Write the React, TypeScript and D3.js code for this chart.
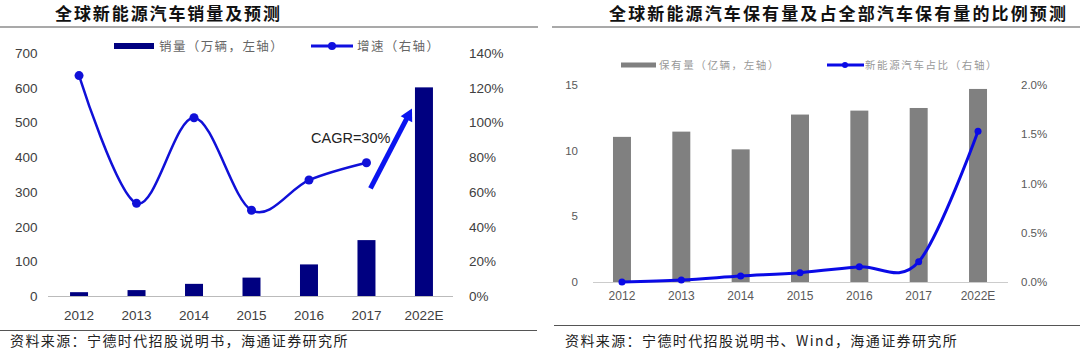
import { scaleBand, scaleLinear, line, curveCardinal } from "d3";

const years = ["2012", "2013", "2014", "2015", "2016", "2017", "2022E"];
// left chart
const sales = [11, 17, 35, 53, 91, 161, 601];
const growth = [1.27, 0.534, 1.027, 0.494, 0.668, 0.768];
const salesTicks = [0, 100, 200, 300, 400, 500, 600, 700];
const growthTicks = [0, 0.2, 0.4, 0.6, 0.8, 1.0, 1.2, 1.4];
// right chart
const stock = [11.05, 11.45, 10.1, 12.75, 13.05, 13.25, 14.7];
const share = [0.0, 0.0002, 0.0006, 0.00095, 0.00155, 0.00205, 0.0153];
const stockTicks = [0, 5, 10, 15];
const shareTicks = [0, 0.005, 0.01, 0.015, 0.02];

const titles = ["全球新能源汽车销量及预测", "全球新能源汽车保有量及占全部汽车保有量的比例预测"];
const legendLeft = ["销量（万辆，左轴）", "增速（右轴）"];
const legendRight = ["保有量（亿辆，左轴）", "新能源汽车占比（右轴）"];
const sources = ["资料来源：宁德时代招股说明书，海通证券研究所", "资料来源：宁德时代招股说明书、Wind，海通证券研究所"];

const NUM = "'Liberation Sans', Arial, sans-serif";
const CJK = "'Noto Sans CJK SC', sans-serif";

function LeftChart() {
  const x = scaleBand().domain(years).range([50.3, 452.7]).paddingInner(0.687).paddingOuter(0.3435);
  const y = scaleLinear().domain([0, 700]).range([296, 53]);
  const y2 = scaleLinear().domain([0, 1.4]).range([296, 53]);
  const cx = (d: string) => (x(d) as number) + x.bandwidth() / 2;
  const pts = growth.map((g, i) => [cx(years[i]), y2(g)] as [number, number]);
  const path = line().curve(curveCardinal.tension(0))(pts) || "";
  // CAGR arrow
  const a0 = [cx("2017") + 4, y2(0.62)];
  const a1 = [(x("2022E") as number) - 3, y2(1.08)];
  const ang = Math.atan2(a1[1] - a0[1], a1[0] - a0[0]);
  const hl = 12, hw = 6.5;
  const head = [
    [a1[0], a1[1]],
    [a1[0] - hl * Math.cos(ang) + hw * Math.sin(ang), a1[1] - hl * Math.sin(ang) - hw * Math.cos(ang)],
    [a1[0] - hl * Math.cos(ang) - hw * Math.sin(ang), a1[1] - hl * Math.sin(ang) + hw * Math.cos(ang)],
  ];
  return (
    <g>
      <text x={55} y={20} fontFamily={CJK} fontWeight="bold" fontSize={17} textLength={225} lengthAdjust="spacing" fill="#111">
        {titles[0]}
      </text>
      <line x1={0} x2={538} y1={27} y2={27} stroke="#555" strokeWidth={1.2} />
      {/* legend */}
      <rect x={114} y={43} width={40} height={6} fill="#000080" />
      <text x={159} y={50.5} fontFamily={CJK} fontSize={12.5} fill="#666" letterSpacing={1.4}>{legendLeft[0]}</text>
      <line x1={311} x2={353} y1={46} y2={46} stroke="#1010e0" strokeWidth={3} />
      <circle cx={332} cy={46} r={4} fill="#1010e0" />
      <text x={357} y={50.5} fontFamily={CJK} fontSize={12.5} fill="#666" letterSpacing={1.4}>{legendLeft[1]}</text>
      {/* bars */}
      {sales.map((v, i) => (
        <rect key={i} x={x(years[i])} y={y(v)} width={x.bandwidth()} height={y(0) - y(v)} fill="#000080" />
      ))}
      <line x1={48} x2={453} y1={296.5} y2={296.5} stroke="#bbb" />
      {salesTicks.map((t) => (
        <text key={t} x={37.5} y={y(t) + 5} textAnchor="end" fontFamily={NUM} fontSize={13.5} fill="#404040">{t}</text>
      ))}
      {growthTicks.map((t) => (
        <text key={t} x={469} y={y2(t) + 5} fontFamily={NUM} fontSize={13.5} fill="#404040">{`${Math.round(t * 100)}%`}</text>
      ))}
      {years.map((d) => (
        <text key={d} x={cx(d)} y={320} textAnchor="middle" fontFamily={NUM} fontSize={13.5} fill="#404040">{d}</text>
      ))}
      <path d={path} fill="none" stroke="#1010d8" strokeWidth={2.5} />
      {pts.map((p, i) => (
        <circle key={i} cx={p[0]} cy={p[1]} r={4.5} fill="#1010d8" />
      ))}
      <text x={311} y={143} fontFamily={NUM} fontSize={14.5} fill="#222">CAGR=30%</text>
      <line x1={a0[0]} y1={a0[1]} x2={a1[0] - 8 * Math.cos(ang)} y2={a1[1] - 8 * Math.sin(ang)} stroke="#0a14f0" strokeWidth={5} />
      <polygon points={head.map((p) => p.join(",")).join(" ")} fill="#0a14f0" />
      <line x1={0} x2={537} y1={330.5} y2={330.5} stroke="#555" strokeWidth={1.2} />
      <text x={10} y={346} fontFamily={CJK} fontSize={14} letterSpacing={1.4} fill="#222">{sources[0]}</text>
    </g>
  );
}

function RightChart() {
  const x = scaleBand().domain(years).range([592.3, 1007.7]).paddingInner(0.697).paddingOuter(0.3485);
  const y = scaleLinear().domain([0, 15]).range([282, 85]);
  const y2 = scaleLinear().domain([0, 0.02]).range([282, 85]);
  const cx = (d: string) => (x(d) as number) + x.bandwidth() / 2;
  const pts = share.map((s, i) => [cx(years[i]), y2(s)] as [number, number]);
  const path = line().curve(curveCardinal.tension(0))(pts) || "";
  return (
    <g>
      <text x={609} y={20} fontFamily={CJK} fontWeight="bold" fontSize={17} textLength={457} lengthAdjust="spacing" fill="#111">
        {titles[1]}
      </text>
      <line x1={552} x2={1080} y1={27} y2={27} stroke="#555" strokeWidth={1.2} />
      {/* legend */}
      <rect x={621} y={62.5} width={35} height={5} fill="#808080" />
      <text x={659} y={69} fontFamily={CJK} fontSize={10.5} fill="#999" letterSpacing={1.6}>{legendRight[0]}</text>
      <line x1={827} x2={864} y1={65} y2={65} stroke="#0a0ae6" strokeWidth={3} />
      <circle cx={845} cy={65} r={3} fill="#0a0ae6" />
      <text x={865} y={69} fontFamily={CJK} fontSize={10.5} fill="#999" letterSpacing={1.6}>{legendRight[1]}</text>
      {stock.map((v, i) => (
        <rect key={i} x={x(years[i])} y={y(v)} width={x.bandwidth()} height={y(0) - y(v)} fill="#808080" />
      ))}
      <line x1={593} x2={1008} y1={282.5} y2={282.5} stroke="#ccc" />
      {stockTicks.map((t) => (
        <text key={t} x={578} y={y(t) + 4} textAnchor="end" fontFamily={NUM} fontSize={11.5} fill="#595959">{t}</text>
      ))}
      {shareTicks.map((t) => (
        <text key={t} x={1021} y={y2(t) + 4} fontFamily={NUM} fontSize={11.5} fill="#595959">{`${(t * 100).toFixed(1)}%`}</text>
      ))}
      {years.map((d) => (
        <text key={d} x={cx(d)} y={299.5} textAnchor="middle" fontFamily={NUM} fontSize={12} fill="#595959">{d}</text>
      ))}
      <path d={path} fill="none" stroke="#0a0ae6" strokeWidth={3} />
      {pts.map((p, i) => (
        <circle key={i} cx={p[0]} cy={p[1]} r={3.5} fill="#0a0ae6" />
      ))}
      <line x1={554} x2={1080} y1={325.5} y2={325.5} stroke="#555" strokeWidth={1.2} />
      <text x={565} y={346} fontFamily={CJK} fontSize={14} letterSpacing={1.4} fill="#222">{sources[1]}</text>
    </g>
  );
}

export default function App() {
  return (
    <svg
      width={1080}
      height={352}
      style={{ position: "absolute", left: 0, top: 0, background: "#fff" }}
    >
      <rect width={1080} height={352} fill="#fff" />
      <LeftChart />
      <RightChart />
    </svg>
  );
}
